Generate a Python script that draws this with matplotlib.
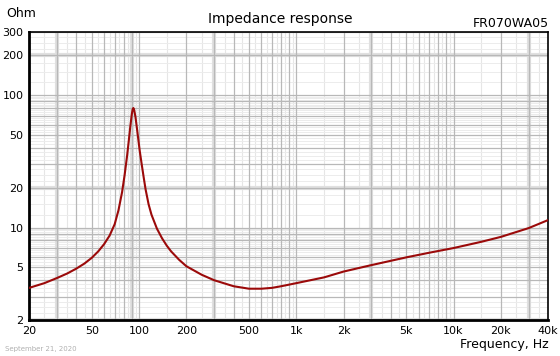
import matplotlib.pyplot as plt
from matplotlib.ticker import FixedLocator, NullLocator, FixedFormatter

# impedance curve
freq = [20, 25, 30, 35, 40, 45, 50, 55, 60, 65, 70, 74, 78, 81, 84, 86, 88, 90, 91, 92, 93,
        95, 97, 99, 101, 104, 107, 110, 115, 120, 130, 140, 150, 160, 180, 200, 250, 300,
        400, 500, 600, 700, 800, 1000, 1500, 2000, 3000, 5000, 7000, 10000, 15000, 20000,
        30000, 40000]
ohm = [3.5, 3.8, 4.15, 4.5, 4.9, 5.35, 5.9, 6.6, 7.5, 8.7, 10.6, 13.5, 18.5, 25, 35, 45, 58, 72,
       78, 80, 78, 68, 56, 46, 38, 30, 24, 19.5, 15, 12.5, 9.8, 8.3, 7.3, 6.6, 5.7, 5.1, 4.4,
       4.0, 3.6, 3.45, 3.45, 3.5, 3.6, 3.8, 4.2, 4.65, 5.2, 5.95, 6.45, 7.0, 7.8, 8.5, 9.9,
       11.4]

xticks = [20, 50, 100, 200, 500, 1000, 2000, 5000, 10000, 20000, 40000]
xlabels = ['20', '50', '100', '200', '500', '1k', '2k', '5k', '10k', '20k', '40k']
yticks = [2, 5, 10, 20, 50, 100, 200, 300]
ylabels = ['2', '5', '10', '20', '50', '100', '200', '300']

fig = plt.figure(figsize=(5.6, 3.56), dpi=100)
ax = fig.add_axes([0.052, 0.101, 0.927, 0.809])
ax.set_xscale('log')
ax.set_yscale('log')
ax.set_xlim(20, 40000)
ax.set_ylim(2, 300)

# grid: light half steps, darker integer steps, wide pale bands
for d in [10, 100, 1000, 10000]:
    for k in range(1, 10):
        f = k * d
        if 20 <= f <= 40000:
            ax.axvline(f, color='#b8b8b8', lw=0.9, zorder=1)
        fh = (k + 0.5) * d
        if 20 <= fh <= 40000:
            ax.axvline(fh, color='#e6e6e6', lw=0.8, zorder=0)
for d in [1, 10, 100]:
    for k in range(1, 10):
        v = k * d
        if 2 <= v <= 300:
            ax.axhline(v, color='#b8b8b8', lw=0.9, zorder=1)
        for s in [0.25, 0.5, 0.75]:
            vh = (k + s) * d
            if 2 <= vh <= 300:
                ax.axhline(vh, color='#ececec', lw=0.7, zorder=0)
for f in [30, 90, 300, 3000, 30000]:
    ax.axvline(f, color='#e0e0e0', lw=3, zorder=0)
for v in [2, 20, 200]:
    ax.axhline(v, color='#e0e0e0', lw=3, zorder=0)

ax.plot(freq, ohm, color='#9b0a0a', lw=1.5, zorder=3)

ax.xaxis.set_major_locator(FixedLocator(xticks))
ax.xaxis.set_major_formatter(FixedFormatter(xlabels))
ax.xaxis.set_minor_locator(NullLocator())
ax.yaxis.set_major_locator(FixedLocator(yticks))
ax.yaxis.set_major_formatter(FixedFormatter(ylabels))
ax.yaxis.set_minor_locator(NullLocator())
ax.tick_params(length=0, labelsize=8, pad=4)
for s in ax.spines.values():
    s.set_color('black')
    s.set_linewidth(1.2)
ax.spines['left'].set_linewidth(2)
ax.spines['bottom'].set_linewidth(2)

fig.text(0.5, 0.948, 'Impedance response', ha='center', va='center', fontsize=10)
fig.text(0.011, 0.963, 'Ohm', ha='left', va='center', fontsize=9)
fig.text(0.980, 0.933, 'FR070WA05', ha='right', va='center', fontsize=9)
fig.text(0.980, 0.031, 'Frequency, Hz', ha='right', va='center', fontsize=9)
fig.text(0.009, 0.020, 'September 21, 2020', ha='left', va='center', fontsize=5, color='#b0b0b0')

fig.savefig('out.png', dpi=100)
